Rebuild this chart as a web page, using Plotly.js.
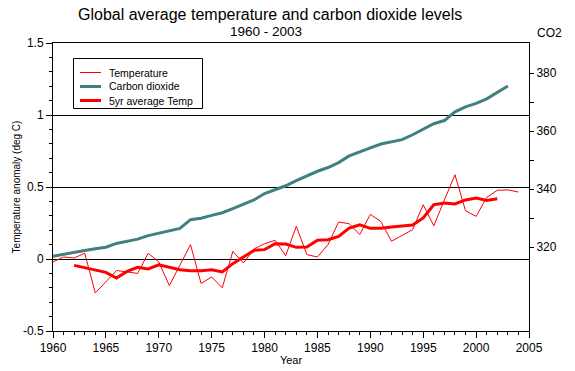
<!DOCTYPE html>
<html><head><meta charset="utf-8">
<script src="https://cdn.plot.ly/plotly-3.0.1.min.js"></script>
<style>html,body{margin:0;padding:0;background:#fff}#chart{width:575px;height:371px}</style>
</head><body><div id="chart"></div>
<script>
const years = [1960,1961,1962,1963,1964,1965,1966,1967,1968,1969,1970,1971,1972,1973,1974,1975,1976,1977,1978,1979,1980,1981,1982,1983,1984,1985,1986,1987,1988,1989,1990,1991,1992,1993,1994,1995,1996,1997,1998,1999,2000,2001,2002,2003,2004];
const temperature = [-0.02,0.014,0.007,0.04,-0.236,-0.155,-0.08,-0.09,-0.10,0.04,-0.02,-0.185,-0.04,0.10,-0.17,-0.125,-0.20,0.053,-0.028,0.07,0.106,0.13,0.023,0.227,0.03,0.014,0.10,0.257,0.245,0.17,0.31,0.26,0.123,0.162,0.204,0.377,0.23,0.41,0.585,0.335,0.296,0.428,0.477,0.48,0.465];
const avgYears = [1962,1963,1964,1965,1966,1967,1968,1969,1970,1971,1972,1973,1974,1975,1976,1977,1978,1979,1980,1981,1982,1983,1984,1985,1986,1987,1988,1989,1990,1991,1992,1993,1994,1995,1996,1997,1998,1999,2000,2001,2002];
const avgTemp = [-0.044,-0.062,-0.079,-0.093,-0.132,-0.086,-0.058,-0.069,-0.04,-0.056,-0.074,-0.081,-0.081,-0.074,-0.09,-0.032,0.014,0.06,0.065,0.106,0.104,0.081,0.083,0.13,0.134,0.157,0.215,0.238,0.213,0.213,0.222,0.231,0.236,0.285,0.377,0.389,0.382,0.41,0.424,0.407,0.419];
const co2Years = [1960,1961,1962,1963,1964,1965,1966,1967,1968,1969,1970,1971,1972,1973,1974,1975,1976,1977,1978,1979,1980,1981,1982,1983,1984,1985,1986,1987,1988,1989,1990,1991,1992,1993,1994,1995,1996,1997,1998,1999,2000,2001,2002,2003];
const co2 = [316.9,317.6,318.4,318.9,319.5,320.0,321.3,322.0,322.8,324.0,324.9,325.6,326.5,329.5,330.0,331.0,331.9,333.3,334.8,336.3,338.5,339.9,341.2,343.0,344.6,346.2,347.5,349.2,351.5,353.0,354.3,355.6,356.4,357.1,358.8,360.8,362.6,363.7,366.7,368.4,369.6,371.2,373.3,375.6];
const tempTicks = [-0.5,0,0.5,1,1.5];
const tempTickText = ['-0.5','0','0.5','1','1.5'];
const co2Ticks = [320,330,340,350,360,370,380];
const co2TickText = ['320','','340','','360','','380'];
const seriesNames = ['Temperature','Carbon dioxide','5yr average Temp'];

const RED = '#ff0000', TEAL = '#408080';
const styles = [{color:RED,width:1},{color:TEAL,width:3},{color:RED,width:3}];
const FONT = 'Liberation Sans, Arial, sans-serif';

const traces = [
  {x: co2Years, y: co2, yaxis: 'y2', type: 'scatter', mode: 'lines', name: seriesNames[1], line: styles[1], showlegend: false},
  {x: years, y: temperature, type: 'scatter', mode: 'lines', name: seriesNames[0], line: styles[0], showlegend: false},
  {x: avgYears, y: avgTemp, type: 'scatter', mode: 'lines', name: seriesNames[2], line: styles[2], showlegend: false}
];

// manual legend (box + samples + labels), positions in pixels -> paper
const L = 53, T = 43, W = 476, H = 288;
const px = v => (v - L) / W, py = v => (T + H - v) / H;
const shapes = [
  {type:'rect', xref:'paper', yref:'paper', x0:px(73.5), x1:px(202.5), y0:py(108.5), y1:py(58.5), line:{color:'#000',width:1}, fillcolor:'#fff', layer:'above'}
];
const annotations = [
  {text:'Global average temperature and carbon dioxide levels', xref:'paper', yref:'paper', x:px(270), y:py(15), xanchor:'center', yanchor:'middle', showarrow:false, font:{family:FONT,size:16,color:'#000'}},
  {text:'1960 - 2003', xref:'paper', yref:'paper', x:px(266), y:py(31.5), xanchor:'center', yanchor:'middle', showarrow:false, font:{family:FONT,size:13.5,color:'#000'}},
  {text:'CO2', xref:'paper', yref:'paper', x:px(549), y:py(33), xanchor:'center', yanchor:'middle', showarrow:false, font:{family:FONT,size:12,color:'#000'}}
];
const rowY = [72.5, 86.5, 100.5];
[0,1,2].forEach(i => {
  shapes.push({type:'line', xref:'paper', yref:'paper', x0:px(80), x1:px(101), y0:py(rowY[i]), y1:py(rowY[i]), line:styles[i], layer:'above'});
  annotations.push({text:seriesNames[i], xref:'paper', yref:'paper', x:px(107), y:py(rowY[i]), xanchor:'left', yanchor:'middle', showarrow:false, font:{family:FONT,size:10.5,color:'#000'}});
});

const layout = {
  width: 575, height: 371,
  margin: {l: L, r: 575 - L - W, t: T, b: 371 - T - H, pad: 0},
  paper_bgcolor: '#fff', plot_bgcolor: '#fff',
  font: {family: FONT, size: 12, color: '#000'},
  showlegend: false,
  xaxis: {
    range: [1960, 2005], tickmode: 'linear', tick0: 1960, dtick: 5,
    ticks: 'outside', ticklen: 6, tickcolor: '#000', tickwidth: 1,
    minor: {dtick: 1, tick0: 1960, ticks: 'outside', ticklen: 3, tickcolor: '#000', showgrid: false},
    showgrid: false, zeroline: false, showline: true, linecolor: '#000', linewidth: 1, mirror: true,
    tickfont: {family: FONT, size: 12},
    title: {text: 'Year', font: {family: FONT, size: 11}, standoff: 1}
  },
  yaxis: {
    range: [-0.5, 1.5], tickmode: 'array', tickvals: tempTicks, ticktext: tempTickText,
    ticks: 'outside', ticklen: 6, tickcolor: '#000', tickwidth: 1,
    minor: {dtick: 0.1, tick0: 0, ticks: 'outside', ticklen: 3, tickcolor: '#000', showgrid: false},
    showgrid: true, gridcolor: '#000', gridwidth: 1, zeroline: false,
    showline: true, linecolor: '#000', linewidth: 1,
    tickfont: {family: FONT, size: 12},
    title: {text: 'Temperature anomaly (deg C)', font: {family: FONT, size: 10}, standoff: 0}
  },
  yaxis2: {
    overlaying: 'y', side: 'right', range: [291.1, 390.45],
    tickmode: 'array', tickvals: co2Ticks, ticktext: co2TickText,
    ticks: 'outside', ticklen: 4, tickcolor: '#000', tickwidth: 1,
    showgrid: false, zeroline: false, showline: true, linecolor: '#000', linewidth: 1,
    tickfont: {family: FONT, size: 12}
  },
  yaxis3: {
    overlaying: 'y', side: 'right', range: [291.1, 390.45],
    tickmode: 'array', tickvals: co2Ticks, showticklabels: false,
    ticks: 'inside', ticklen: 4, tickcolor: '#000', tickwidth: 1,
    showgrid: false, zeroline: false, showline: false
  },
  shapes: shapes,
  annotations: annotations
};

Plotly.newPlot('chart', traces, layout, {displayModeBar: false, staticPlot: true});
</script>
</body></html>
